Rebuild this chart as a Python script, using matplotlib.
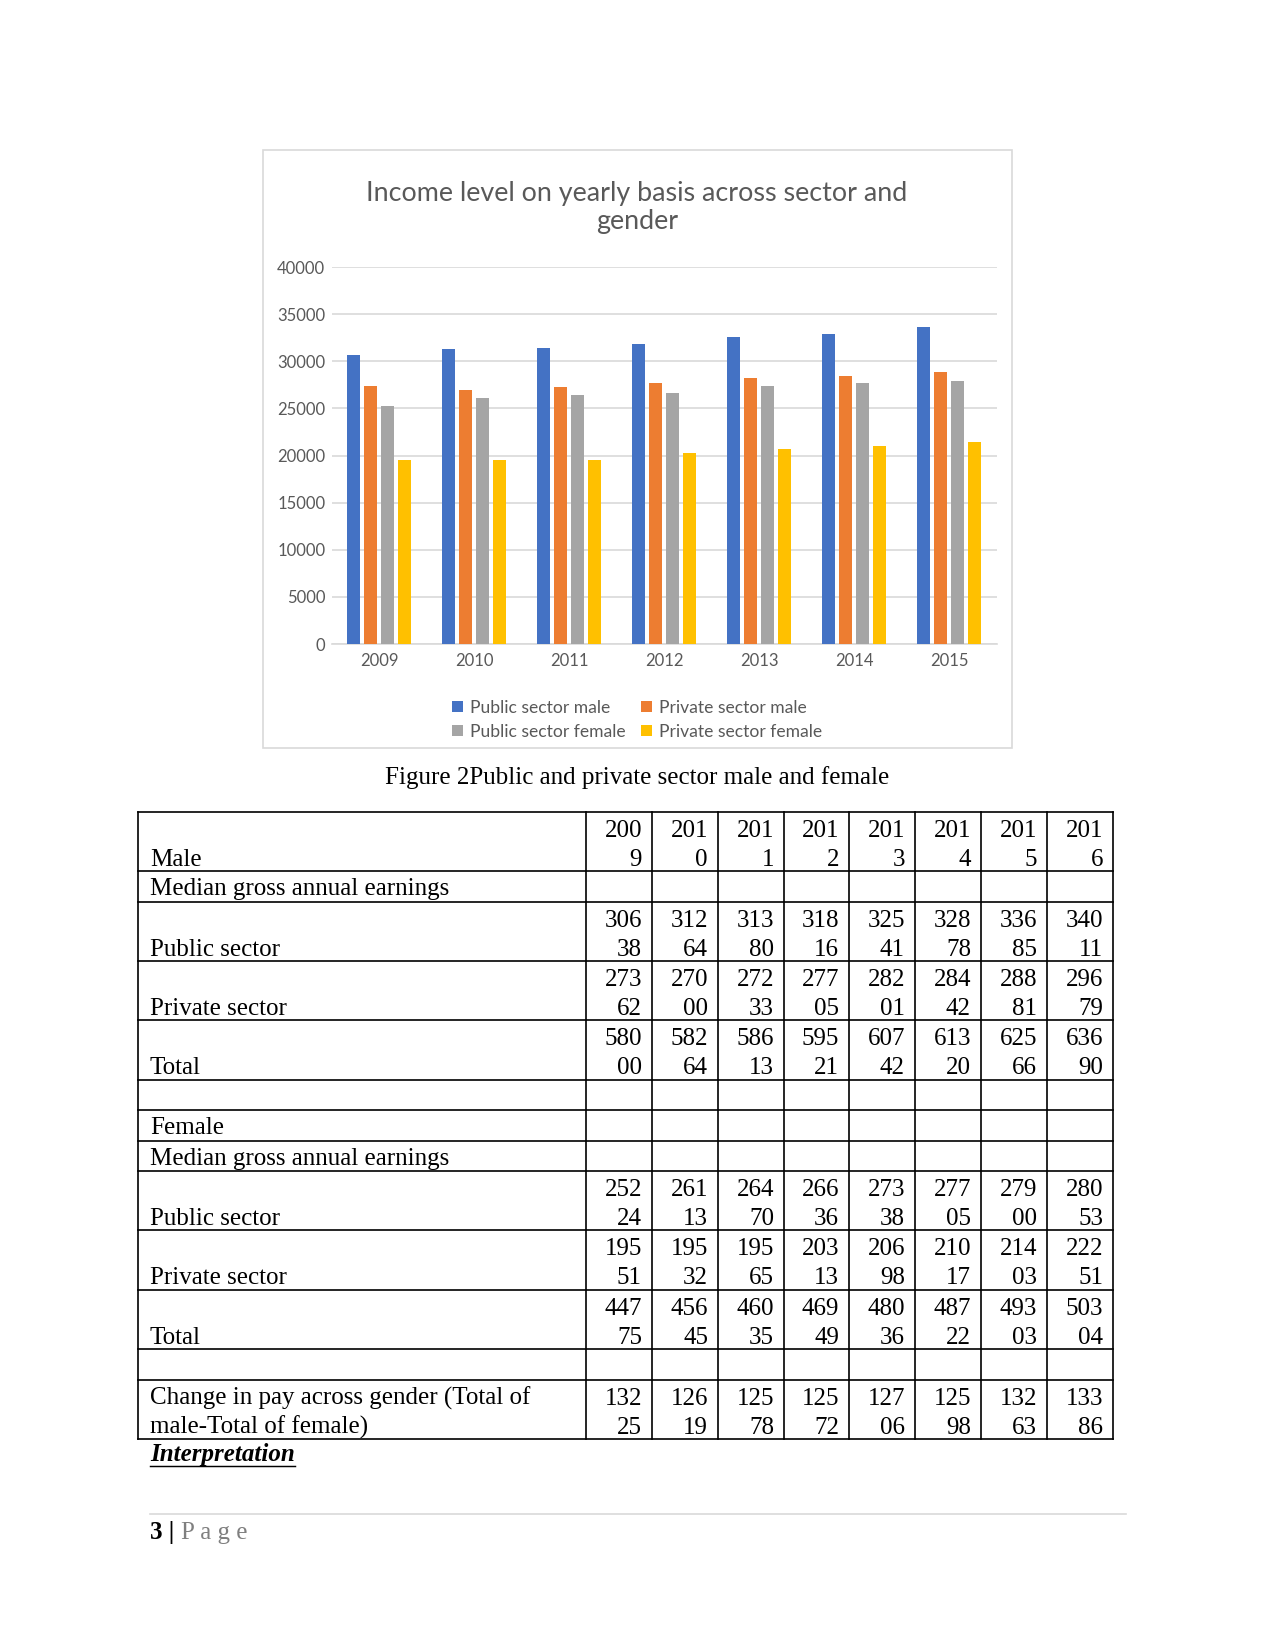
import matplotlib
matplotlib.use("Agg")
import matplotlib.pyplot as plt
import numpy as np

# ---- data ----
years = [2009, 2010, 2011, 2012, 2013, 2014, 2015, 2016]
male_public = [30638, 31264, 31380, 31816, 32541, 32878, 33685, 34011]
male_private = [27362, 27000, 27233, 27705, 28201, 28442, 28881, 29679]
male_total = [58000, 58264, 58613, 59521, 60742, 61320, 62566, 63690]
female_public = [25224, 26113, 26470, 26636, 27338, 27705, 27900, 28053]
female_private = [19551, 19532, 19565, 20313, 20698, 21017, 21403, 22251]
female_total = [44775, 45645, 46035, 46949, 48036, 48722, 49303, 50304]
pay_gap = [13225, 12619, 12578, 12572, 12706, 12598, 13263, 13386]

chart_years = years[:7]
series_names = ["Public sector male", "Private sector male",
                "Public sector female", "Private sector female"]
series_values = [male_public[:7], male_private[:7],
                 female_public[:7], female_private[:7]]
series_colors = ["#4472C4", "#ED7D31", "#A5A5A5", "#FFC000"]

W, H = 1275, 1650
fig = plt.figure(figsize=(8.5, 11), dpi=150)


def fx(x):
    return x / W


def fy(y):
    return 1 - y / H


# ---- chart frame ----
fig.add_artist(plt.Rectangle((fx(263), fy(748)), fx(1012) - fx(263), fy(150) - fy(748),
                             transform=fig.transFigure, fill=False,
                             edgecolor="#D9D9D9", linewidth=0.8))

fig.text(fx(637), fy(193), "Income level on yearly basis across sector and",
         ha="center", va="center", fontsize=12.9, color="#595959", family="Lato")
fig.text(fx(637), fy(222), "gender",
         ha="center", va="center", fontsize=12.9, color="#595959", family="Lato")

ax = fig.add_axes([fx(331.5), fy(644), fx(996.5) - fx(331.5), fy(267) - fy(644)])
x = np.arange(len(chart_years))
bw = 0.135
pitch = 0.18
offsets = (np.arange(4) - 1.5) * pitch
for vals, off, col, name in zip(series_values, offsets, series_colors, series_names):
    ax.bar(x + off, vals, width=bw, color=col, label=name, zorder=3)

ax.set_xlim(-0.5, len(chart_years) - 0.5)
ax.set_ylim(0, 40000)
ax.set_yticks(np.arange(0, 40001, 5000))
ax.set_xticks(x)
ax.set_xticklabels([str(y) for y in chart_years])
ax.grid(axis="y", color="#D9D9D9", linewidth=0.8, zorder=0)
for s in ["top", "right", "left"]:
    ax.spines[s].set_visible(False)
ax.spines["bottom"].set_color("#D9D9D9")
ax.tick_params(axis="y", length=0, labelsize=8, labelcolor="#595959", pad=3)
ax.tick_params(axis="x", length=0, labelsize=8, labelcolor="#595959", pad=4.5)
for lab in ax.get_xticklabels() + ax.get_yticklabels():
    lab.set_family("Lato")

handles, labels = ax.get_legend_handles_labels()
order = [0, 2, 1, 3]
leg = fig.legend([handles[i] for i in order], [labels[i] for i in order],
                 ncol=2, loc="center", bbox_to_anchor=(fx(637), fy(720)),
                 frameon=False, handlelength=0.6, handleheight=0.6,
                 handletextpad=0.4, columnspacing=0.9, labelspacing=0.45,
                 prop={"family": "Lato", "size": 8.4})
for t in leg.get_texts():
    t.set_color("#595959")

# ---- caption ----
fig.text(fx(637), fy(778), "Figure 2Public and private sector male and female",
         ha="center", va="center", fontsize=12, family="Liberation Serif")

# ---- table ----
col_x = [138, 586, 652, 718, 784, 849, 915, 981, 1047, 1113]
two, one = 59.3, 30.5
rows = [
    ("Male", years, two),
    ("Median gross annual earnings", None, one),
    ("Public sector", male_public, two),
    ("Private sector", male_private, two),
    ("Total", male_total, two),
    ("", None, one),
    ("Female", None, one),
    ("Median gross annual earnings", None, one),
    ("Public sector", female_public, two),
    ("Private sector", female_private, two),
    ("Total", female_total, two),
    ("", None, one),
    ("Change in pay across gender (Total of\nmale-Total of female)", pay_gap, two),
]

tfont = dict(fontsize=12, family="Liberation Serif", color="black")
line_kw = dict(color="black", linewidth=0.8, transform=fig.transFigure)

y = 812
row_edges = [y]
for label, vals, h in rows:
    top = y
    bottom = y + h
    if h > 40:
        l1, l2 = top + 19, top + 48
    else:
        l1 = l2 = top + 18
    if "\n" in label:
        a, b = label.split("\n")
        fig.text(fx(150), fy(l1), a, ha="left", va="center", **tfont)
        fig.text(fx(150), fy(l2), b, ha="left", va="center", **tfont)
    elif label:
        fig.text(fx(150), fy(l2), label, ha="left", va="center", **tfont)
    if vals is not None:
        for i, v in enumerate(vals):
            s = str(v)
            xr = col_x[i + 2] - 10
            fig.text(fx(xr), fy(l1), s[:3], ha="right", va="center", **tfont)
            fig.text(fx(xr), fy(l2), s[3:], ha="right", va="center", **tfont)
    y = bottom
    row_edges.append(y)

for ye in row_edges:
    fig.add_artist(plt.Line2D([fx(col_x[0]), fx(col_x[-1])], [fy(ye), fy(ye)], **line_kw))
for xe in col_x:
    fig.add_artist(plt.Line2D([fx(xe), fx(xe)], [fy(row_edges[0]), fy(row_edges[-1])], **line_kw))

# ---- interpretation heading ----
t = fig.text(fx(150), fy(1455), "Interpretation", ha="left", va="center",
             fontsize=12, family="Liberation Serif", fontweight="bold", style="italic")
fig.canvas.draw()
bb = t.get_window_extent()
fig.add_artist(plt.Line2D([bb.x0 / fig.bbox.width, bb.x1 / fig.bbox.width],
                          [fy(1466), fy(1466)], color="black", linewidth=0.7,
                          transform=fig.transFigure))

# ---- footer ----
fig.add_artist(plt.Line2D([fx(150), fx(1126)], [fy(1514), fy(1514)],
                          color="#D9D9D9", linewidth=0.8, transform=fig.transFigure))
fig.text(fx(150), fy(1533), "3 |", ha="left", va="center", fontsize=12,
         family="Liberation Serif", fontweight="bold")
fig.text(fx(181), fy(1533), "P a g e", ha="left", va="center", fontsize=12,
         family="Liberation Serif", color="#7F7F7F")

fig.savefig("out.png", dpi=150, facecolor="white")
